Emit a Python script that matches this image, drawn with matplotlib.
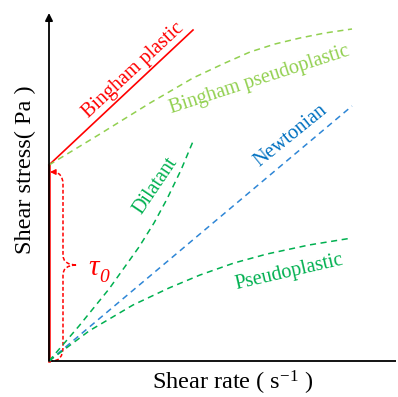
import numpy as np
import matplotlib.pyplot as plt
from matplotlib.path import Path
from matplotlib.patches import PathPatch

plt.rcParams['font.family'] = ['Liberation Serif', 'DejaVu Serif']
plt.rcParams['mathtext.fontset'] = 'custom'
plt.rcParams['mathtext.rm'] = 'Liberation Serif'
plt.rcParams['mathtext.it'] = 'Liberation Serif:italic'

# Данные (условные единицы: скорость сдвига / напряжение сдвига)
tau0 = 196

bingham_x = [0, 144]
bingham_y = [tau0, 331]

bpseudo_x = [0, 51, 101, 144, 176, 201, 226, 251, 276, 303]
bpseudo_y = [196, 227, 258, 283, 298, 309, 317, 323, 328, 332]

newton_x = [0, 303]
newton_y = [0, 255]

dilatant_x = [0, 30, 60, 90, 105, 118, 132, 145]
dilatant_y = [0, 35, 72, 114, 138, 162, 191, 222]

pseudo_x = [0, 40, 84, 120, 151, 185, 218, 260, 303]
pseudo_y = [0, 30, 56, 73, 86, 98, 107, 116, 123]

RED = '#FF0000'
LGREEN = '#92D050'
GREEN = '#00B050'
BLUE = '#2E86D6'
BLUE_T = '#0070C0'
dash = (0, (4, 3))

fig = plt.figure(figsize=(3.98, 3.97), dpi=100)
ax = fig.add_axes([0, 0, 1, 1])
ax.set_xlim(-49, 349)
ax.set_ylim(-36, 361)
ax.axis('off')

# Оси
ax.plot([0, 347], [0, 0], color='k', lw=1.3, solid_capstyle='butt')
ax.annotate('', xy=(0, 348), xytext=(0, 0),
            arrowprops=dict(arrowstyle='-|>', color='k', lw=1.3, mutation_scale=11,
                            shrinkA=0, shrinkB=0))

# Кривые
ax.plot([0, 0], [0, tau0], color=RED, lw=1.8)
ax.plot(bingham_x, bingham_y, color=RED, lw=1.2)
ax.plot(bpseudo_x, bpseudo_y, color=LGREEN, lw=1.1, ls=dash)
ax.plot(newton_x, newton_y, color=BLUE, lw=1.1, ls=dash)
ax.plot(dilatant_x, dilatant_y, color=GREEN, lw=1.1, ls=dash)
ax.plot(pseudo_x, pseudo_y, color=GREEN, lw=1.1, ls=dash)

# Фигурная скобка tau0
bx = 14
mid = tau0 / 2
top = tau0 - 7
verts = [(3, top), (bx, top), (bx, top - 12),
         (bx, mid + 8),
         (bx, mid - 2), (bx + 14, mid - 2),
         (bx, mid - 2), (bx, mid - 12),
         (bx, 14),
         (bx, 0), (3, 0)]
codes = [Path.MOVETO, Path.CURVE3, Path.CURVE3,
         Path.LINETO,
         Path.CURVE3, Path.CURVE3,
         Path.CURVE3, Path.CURVE3,
         Path.LINETO,
         Path.CURVE3, Path.CURVE3]
ax.add_patch(PathPatch(Path(verts, codes), fill=False, ec=RED, lw=1.1, ls=(0, (2.5, 1.5))))
ax.annotate('', xy=(1, top), xytext=(5, top),
            arrowprops=dict(arrowstyle='-|>', color=RED, lw=1, mutation_scale=8,
                            shrinkA=0, shrinkB=0))

# Подписи
lab = dict(fontsize=14.5, rotation_mode='anchor', ha='center', va='center')
ax.text(84, 291, 'Bingham plastic', color=RED, rotation=43, **lab)
ax.text(211, 281, 'Bingham pseudoplastic', color=LGREEN, rotation=18, **lab)
ax.text(242, 225, 'Newtonian', color=BLUE_T, rotation=39, **lab)
ax.text(107, 175, 'Dilatant', color=GREEN, rotation=56, **lab)
ax.text(240, 89, 'Pseudoplastic', color=GREEN, rotation=13, **lab)
ax.text(45, 93, 'τ', color=RED, fontsize=21, style='italic', ha='center', va='center')
ax.text(55, 84, '0', color=RED, fontsize=14, style='italic', ha='center', va='center')

ax.text(-24, 191, 'Shear stress( Pa )', fontsize=17.5, rotation=90,
        ha='center', va='center')
ax.text(184, -22, r'Shear rate ( s$^{\mathregular{-1}}$ )', fontsize=17.5,
        ha='center', va='center')

fig.savefig('out.png', dpi=100)
